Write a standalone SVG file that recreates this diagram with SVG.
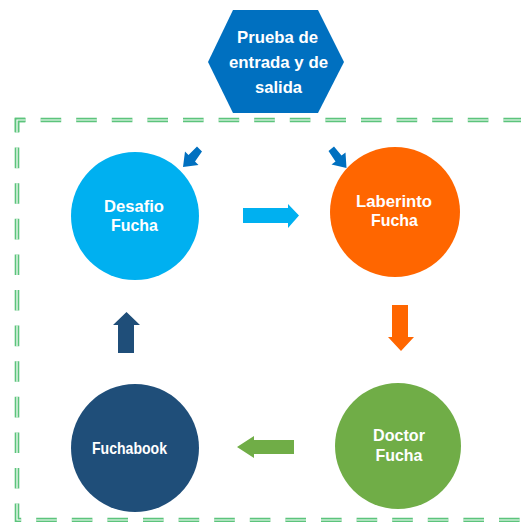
<svg xmlns="http://www.w3.org/2000/svg" width="521" height="522" viewBox="0 0 521 522">
<style>
.lbl{font-family:"Liberation Sans",Arial,sans-serif;font-weight:bold;font-size:16.5px;fill:#fff;text-anchor:middle}
.bo{fill:none;stroke:#5CC47C;stroke-width:4.6;stroke-dasharray:20.6 15}
.bi{fill:none;stroke:#fff;stroke-width:1.2;stroke-dasharray:20.6 15}
</style>
<rect width="521" height="522" fill="#fff"/>
<g id="border">
<path class="bo" d="M17,132 V120 H540"/>
<path class="bi" d="M17,132 V120 H540"/>
<path class="bo" d="M25,120 H17 V520 H540"/>
<path class="bi" d="M25,120 H17 V520 H540"/>
</g>
<g id="prueba">
<polygon points="233,10 318,10 344,62 318,113 233,113 208,62" fill="#0070C0"/>
<text class="lbl" x="277.5" y="43" textLength="81" lengthAdjust="spacingAndGlyphs">Prueba de</text>
<text class="lbl" x="278.5" y="67.5" textLength="99" lengthAdjust="spacingAndGlyphs">entrada y de</text>
<text class="lbl" x="278.5" y="93" textLength="47" lengthAdjust="spacingAndGlyphs">salida</text>
</g>
<g id="desafio">
<circle cx="135" cy="216" r="64" fill="#00B0F0"/>
<text class="lbl" x="134" y="212" textLength="60" lengthAdjust="spacingAndGlyphs">Desafio</text>
<text class="lbl" x="134.5" y="231" textLength="47" lengthAdjust="spacingAndGlyphs">Fucha</text>
</g>
<g id="laberinto">
<circle cx="395" cy="212" r="65" fill="#FF6600"/>
<text class="lbl" x="394" y="207" textLength="76" lengthAdjust="spacingAndGlyphs">Laberinto</text>
<text class="lbl" x="394.5" y="226" textLength="47" lengthAdjust="spacingAndGlyphs">Fucha</text>
</g>
<g id="doctor">
<circle cx="398" cy="446" r="63" fill="#70AD47"/>
<text class="lbl" x="399" y="441" textLength="52" lengthAdjust="spacingAndGlyphs">Doctor</text>
<text class="lbl" x="399" y="461" textLength="47" lengthAdjust="spacingAndGlyphs">Fucha</text>
</g>
<g id="fuchabook">
<circle cx="135" cy="448" r="64" fill="#1F4E79"/>
<text class="lbl" x="129.5" y="454" textLength="75" lengthAdjust="spacingAndGlyphs">Fuchabook</text>
</g>
<g id="connectors">
<polygon points="243,208 288,208 288,204 299,215.5 288,228 288,223 243,223" fill="#00B0F0"/>
<polygon points="392,305 408,305 408,337 414,337 401,351 388,337 392,337" fill="#FF6600"/>
<polygon points="118,353 134,353 134,325 140,325 126.5,312 113,325 118,325" fill="#1F4E79"/>
<polygon points="294,440 294,454 254,454 254,458 237,447 254,436 254,440" fill="#70AD47"/>
<g fill="#0070C0">
<polygon points="202,151.5 197,146.5 188.5,155 185,151.5 183,167 198.5,165 195,161.5"/>
<polygon points="328.5,151 334,146.5 341.5,155.5 345.5,152.5 346.5,168 331.5,164.5 335.5,161.5"/>
</g>
</g>
</svg>
